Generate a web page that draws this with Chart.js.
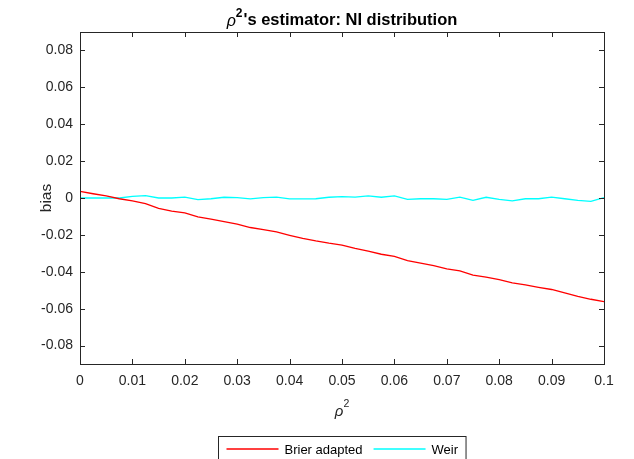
<!DOCTYPE html>
<html>
<head>
<meta charset="utf-8">
<script src="https://cdn.jsdelivr.net/npm/chart.js@4.4.1/dist/chart.umd.min.js"></script>
<style>
  html, body { margin: 0; padding: 0; background: #fff; }
  #wrap { width: 634px; height: 459px; }
</style>
</head>
<body>
<div id="wrap"><canvas id="c" width="634" height="459"></canvas></div>
<script>
// rho^2 grid (0 : 0.0025 : 0.1)
const rho2 = [0, 0.0025, 0.005, 0.0075, 0.01, 0.0125, 0.015, 0.0175, 0.02, 0.0225,
  0.025, 0.0275, 0.03, 0.0325, 0.035, 0.0375, 0.04, 0.0425, 0.045, 0.0475,
  0.05, 0.0525, 0.055, 0.0575, 0.06, 0.0625, 0.065, 0.0675, 0.07, 0.0725,
  0.075, 0.0775, 0.08, 0.0825, 0.085, 0.0875, 0.09, 0.0925, 0.095, 0.0975, 0.1];

const brierBias = [0.0036, 0.0023, 0.0011, -0.0004, -0.0016, -0.0030, -0.0056, -0.0071, -0.0081, -0.0102,
  -0.0115, -0.0128, -0.0142, -0.0160, -0.0171, -0.0184, -0.0202, -0.0219, -0.0233, -0.0245,
  -0.0255, -0.0273, -0.0288, -0.0305, -0.0317, -0.0339, -0.0353, -0.0367, -0.0384, -0.0395,
  -0.0418, -0.0429, -0.0442, -0.0460, -0.0471, -0.0484, -0.0496, -0.0515, -0.0533, -0.0549, -0.0562];

const weirBias = [0.0000, 0.0000, 0.0000, 0.0000, 0.0009, 0.0013, 0.0000, 0.0000, 0.0005, -0.0009,
  -0.0004, 0.0004, 0.0002, -0.0005, 0.0002, 0.0005, -0.0005, -0.0005, -0.0004, 0.0004,
  0.0007, 0.0005, 0.0011, 0.0004, 0.0011, -0.0007, -0.0004, -0.0004, -0.0007, 0.0005,
  -0.0013, 0.0004, -0.0007, -0.0016, -0.0004, -0.0004, 0.0005, -0.0004, -0.0013, -0.0018, 0.0002];

const seriesNames = ['Brier adapted', 'Weir'];
const xTicks = [0, 0.01, 0.02, 0.03, 0.04, 0.05, 0.06, 0.07, 0.08, 0.09, 0.1];
const xTickLabels = ['0', '0.01', '0.02', '0.03', '0.04', '0.05', '0.06', '0.07', '0.08', '0.09', '0.1'];
const yTicks = [-0.08, -0.06, -0.04, -0.02, 0, 0.02, 0.04, 0.06, 0.08];
const yTickLabels = ['-0.08', '-0.06', '-0.04', '-0.02', '0', '0.02', '0.04', '0.06', '0.08'];

const axisColor = '#262626';
const fam = '"Liberation Sans", Arial, Helvetica, sans-serif';

function pts(ys){ return rho2.map((x, i) => ({ x, y: ys[i] })); }

// frame, inward ticks, title, axis labels, legend (matlab look)
const matlabLook = {
  id: 'matlabLook',
  afterDatasetsDraw(chart) {
    const { ctx, chartArea: a, scales } = chart;
    const tl = 5;
    ctx.save();
    ctx.strokeStyle = axisColor;
    ctx.lineWidth = 1;
    ctx.beginPath();
    xTicks.forEach(v => {
      const px = Math.round(scales.x.getPixelForValue(v)) + 0.5;
      ctx.moveTo(px, a.bottom); ctx.lineTo(px, a.bottom - tl);
      ctx.moveTo(px, a.top); ctx.lineTo(px, a.top + tl);
    });
    yTicks.forEach(v => {
      const py = Math.round(scales.y.getPixelForValue(v)) + 0.5;
      ctx.moveTo(a.left, py); ctx.lineTo(a.left + tl, py);
      ctx.moveTo(a.right, py); ctx.lineTo(a.right - tl, py);
    });
    ctx.stroke();
    ctx.strokeRect(Math.round(a.left) + 0.5, Math.round(a.top) + 0.5,
      Math.round(a.right - a.left), Math.round(a.bottom - a.top));

    const cx = (a.left + a.right) / 2;
    ctx.fillStyle = '#000';
    ctx.textBaseline = 'alphabetic';
    ctx.textAlign = 'left';

    // title: rho^2's estimator: NI distribution
    const fRho = 'italic 16px ' + fam;
    const fSup = 'bold 12px ' + fam;
    const fTitle = 'bold 16.5px ' + fam;
    const rest = "'s estimator: NI distribution";
    ctx.font = fRho; const wR = ctx.measureText('\u03c1').width;
    ctx.font = fSup; const wS = ctx.measureText('2').width;
    ctx.font = fTitle; const wT = ctx.measureText(rest).width;
    let x0 = cx - (wR + wS + 1 + wT) / 2;
    const tb = 25;
    ctx.font = fRho; ctx.fillText('\u03c1', x0, tb + 1);
    ctx.font = fSup; ctx.fillText('2', x0 + wR, tb - 8);
    ctx.font = fTitle; ctx.fillText(rest, x0 + wR + wS + 1, tb);

    // x label
    ctx.font = 'italic 15px ' + fam; const wx = ctx.measureText('\u03c1').width;
    ctx.font = '10.5px ' + fam; const wx2 = ctx.measureText('2').width;
    x0 = cx - (wx + wx2) / 2;
    ctx.font = 'italic 15px ' + fam; ctx.fillStyle = axisColor;
    ctx.fillText('\u03c1', x0, 416);
    ctx.font = '10.5px ' + fam; ctx.fillText('2', x0 + wx, 407);

    // y label
    ctx.save();
    ctx.translate(51, (a.top + a.bottom) / 2);
    ctx.rotate(-Math.PI / 2);
    ctx.textAlign = 'center';
    ctx.font = '15.5px ' + fam;
    ctx.fillText('bias', 0, 0);
    ctx.restore();

    // legend
    ctx.font = '13px ' + fam;
    const lineLen = 52, pad = 8, gap = 6, sep = 11;
    const ws = seriesNames.map(s => ctx.measureText(s).width);
    const lw = pad + lineLen + gap + ws[0] + sep + lineLen + gap + ws[1] + pad;
    const lx = Math.round(cx - lw / 2) + 0.5, ly = 436.5;
    ctx.fillStyle = '#fff';
    ctx.fillRect(lx, ly, lw, 40);
    ctx.strokeStyle = axisColor;
    ctx.strokeRect(lx, ly, lw, 40);
    let px = lx + pad;
    const my = 449;
    chart.data.datasets.forEach((ds, i) => {
      ctx.strokeStyle = ds.borderColor; ctx.lineWidth = 1.3;
      ctx.beginPath(); ctx.moveTo(px, my); ctx.lineTo(px + lineLen, my); ctx.stroke();
      px += lineLen + gap;
      ctx.fillStyle = '#000';
      ctx.textBaseline = 'middle';
      ctx.fillText(seriesNames[i], px, my + 1);
      px += ws[i] + sep;
    });
    ctx.restore();
  }
};

new Chart(document.getElementById('c').getContext('2d'), {
  type: 'line',
  data: {
    datasets: [
      { label: seriesNames[0], data: pts(brierBias), borderColor: '#ff0000', borderWidth: 1.3, pointRadius: 0, tension: 0, fill: false },
      { label: seriesNames[1], data: pts(weirBias), borderColor: '#00ffff', borderWidth: 1.3, pointRadius: 0, tension: 0, fill: false }
    ]
  },
  options: {
    responsive: false,
    animation: false,
    events: [],
    layout: { padding: { top: 32, right: 30, left: 0, bottom: 0 } },
    plugins: { legend: { display: false }, title: { display: false }, tooltip: { enabled: false } },
    scales: {
      x: {
        type: 'linear', min: 0, max: 0.1,
        grid: { display: false, drawTicks: false }, border: { display: false },
        afterBuildTicks: s => { s.ticks = xTicks.map(v => ({ value: v })); },
        afterFit: s => { s.height = 95; },
        ticks: {
          color: axisColor, padding: 9, maxRotation: 0, autoSkip: false,
          font: { family: fam, size: 14 },
          callback: (v) => { const i = xTicks.findIndex(t => Math.abs(t - v) < 1e-9); return i >= 0 ? xTickLabels[i] : ''; }
        }
      },
      y: {
        type: 'linear', min: -0.09, max: 0.09,
        grid: { display: false, drawTicks: false }, border: { display: false },
        afterBuildTicks: s => { s.ticks = yTicks.map(v => ({ value: v })); },
        afterFit: s => { s.width = 80; },
        ticks: {
          color: axisColor, padding: 7, autoSkip: false,
          font: { family: fam, size: 14 },
          callback: (v) => { const i = yTicks.findIndex(t => Math.abs(t - v) < 1e-9); return i >= 0 ? yTickLabels[i] : ''; }
        }
      }
    }
  },
  plugins: [matlabLook]
});
</script>
</body>
</html>
